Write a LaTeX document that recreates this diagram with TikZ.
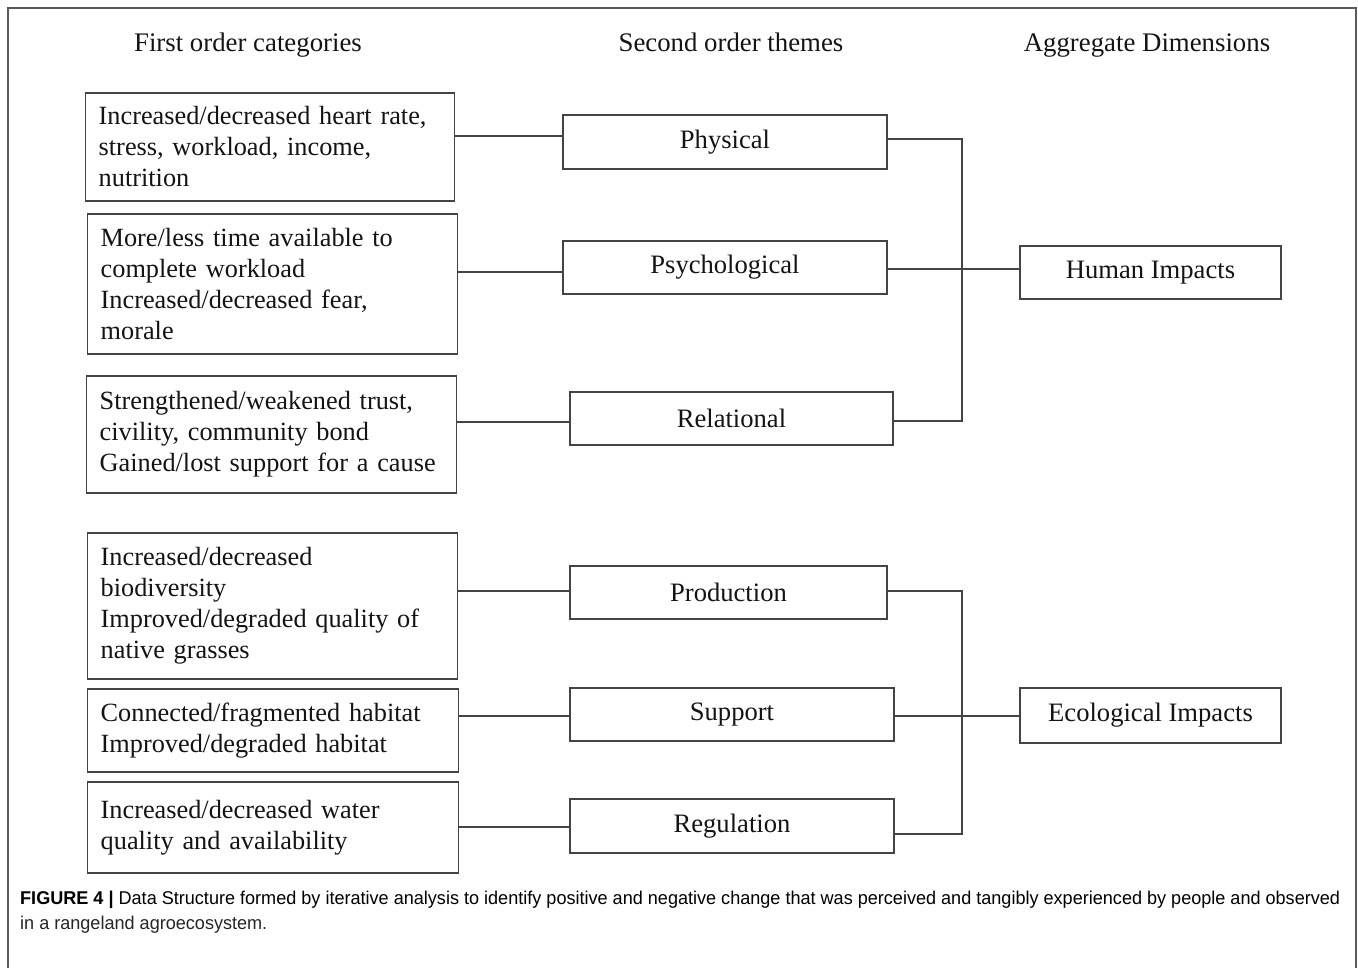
\documentclass[tikz,border=0pt]{standalone}
\usepackage{fontspec}
\usepackage{graphicx}
\setmainfont{Liberation Serif}
\newfontfamily\capfont{Liberation Sans}
\definecolor{linegray}{HTML}{444444}
\definecolor{framegray}{HTML}{5A5A5A}
\definecolor{txt}{HTML}{141414}
\definecolor{captxt}{HTML}{262626}
\newsavebox\capboxA
\tikzset{
  conn/.style={draw=linegray, line width=1.4pt},
  catbox/.style={draw=linegray, line width=1.4pt, rectangle, anchor=west, inner xsep=13pt, inner ysep=0pt,
    align=left, text=txt, font=\fontsize{26.3pt}{31pt}\selectfont},
  thbox/.style={draw=linegray, line width=1.4pt, rectangle, inner sep=0pt, text=txt,
    font=\fontsize{26.6pt}{31pt}\selectfont},
  head/.style={inner sep=0pt, anchor=base, text=txt, font=\fontsize{26.8pt}{31pt}\selectfont},
}
\begin{document}
\sbox\capboxA{\capfont\fontsize{18.5pt}{22pt}\selectfont\textbf{FIGURE 4 |} Data Structure formed by iterative analysis to identify positive and negative change that was perceived and tangibly experienced by people and observed}%
\pgfmathsetmacro\capscale{1320/\wd\capboxA}%
\begin{tikzpicture}[x=1pt, y=-1pt]
\useasboundingbox (0,0) rectangle (1358,968);
\fill[white] (0,0) rectangle (1358,968);
% outer frame
\draw[framegray, line width=1.5pt] (8,975) -- (8,8) -- (1356,8) -- (1356,975);

% headers
\node[head] (h1) at (248,52) {First order categories};
\node[head] (h2) at (731,52) {Second order themes};
\node[head] (h3) at (1147,52) {Aggregate Dimensions};

% first order categories
\node[catbox, text width=343pt, minimum height=108pt] (f1) at (85,147)
  {Increased/decreased heart rate,\\stress, workload, income,\\nutrition};
\node[catbox, text width=344pt, minimum height=140pt] (f2) at (87,284)
  {More/less time available to\\complete workload\\Increased/decreased fear,\\morale};
\node[catbox, text width=344pt, minimum height=117pt] (f3) at (86,434.5)
  {Strengthened/weakened trust,\\civility, community bond\\Gained/lost support for a cause};
\node[catbox, text width=344pt, minimum height=146pt] (f4) at (87,606)
  {Increased/decreased\\biodiversity\\Improved/degraded quality of\\native grasses};
\node[catbox, text width=345pt, minimum height=83pt] (f5) at (87,730.5)
  {Connected/fragmented habitat\\Improved/degraded habitat};
\node[catbox, text width=345pt, minimum height=91pt] (f6) at (87,827.5)
  {Increased/decreased water\\quality and availability};

% second order themes
\node[thbox, minimum width=324pt, minimum height=54pt] (phys) at (725,142) {Physical};
\node[thbox, minimum width=324pt, minimum height=53pt] (psych) at (725,267.5) {Psychological};
\node[thbox, minimum width=323pt, minimum height=53pt] (rel) at (731.5,418.5) {Relational};
\node[thbox, minimum width=317pt, minimum height=53pt] (prod) at (728.5,592.5) {Production};
\node[thbox, minimum width=324pt, minimum height=53pt] (supp) at (732,714.5) {Support};
\node[thbox, minimum width=324pt, minimum height=54pt] (reg) at (732,826) {Regulation};

% aggregate dimensions
\node[thbox, minimum width=261pt, minimum height=53pt] (human) at (1150.5,272.5) {Human Impacts};
\node[thbox, minimum width=261pt, minimum height=55pt] (eco) at (1150.5,715.5) {Ecological Impacts};

% bus coordinates
\coordinate (hb) at (962,0);

% first -> second order connectors
\draw[conn] ([yshift=6pt]phys.west) -- ([yshift=6pt]phys.west -| f1.east);
\draw[conn] ([yshift=-4.5pt]psych.west) -- ([yshift=-4.5pt]psych.west -| f2.east);
\draw[conn] ([yshift=-3.5pt]rel.west) -- ([yshift=-3.5pt]rel.west -| f3.east);
\draw[conn] ([yshift=1.5pt]prod.west) -- ([yshift=1.5pt]prod.west -| f4.east);
\draw[conn] ([yshift=-1.5pt]supp.west) -- ([yshift=-1.5pt]supp.west -| f5.east);
\draw[conn] ([yshift=-1pt]reg.west) -- ([yshift=-1pt]reg.west -| f6.east);

% second order -> aggregate
\draw[conn] ([yshift=3pt]phys.east) -| ([yshift=-2.5pt]rel.east -| hb) -- ([yshift=-2.5pt]rel.east);
\draw[conn] ([yshift=-1.5pt]psych.east) -- ([yshift=-1.5pt]psych.east -| human.west);
\draw[conn] ([yshift=1.5pt]prod.east) -| ([yshift=-8pt]reg.east -| hb) -- ([yshift=-8pt]reg.east);
\draw[conn] ([yshift=-1.5pt]supp.east) -- ([yshift=-1.5pt]supp.east -| eco.west);

% caption
\node[anchor=base west, inner sep=0pt, text=captxt] (cap1) at (20,904)
  {\scalebox{\capscale}[1]{\usebox\capboxA}};
\node[anchor=base west, inner sep=0pt, text=captxt] (cap2) at (20,929)
  {\scalebox{\capscale}[1]{\capfont\fontsize{18.5pt}{22pt}\selectfont in a rangeland agroecosystem.}};
\end{tikzpicture}
\end{document}
